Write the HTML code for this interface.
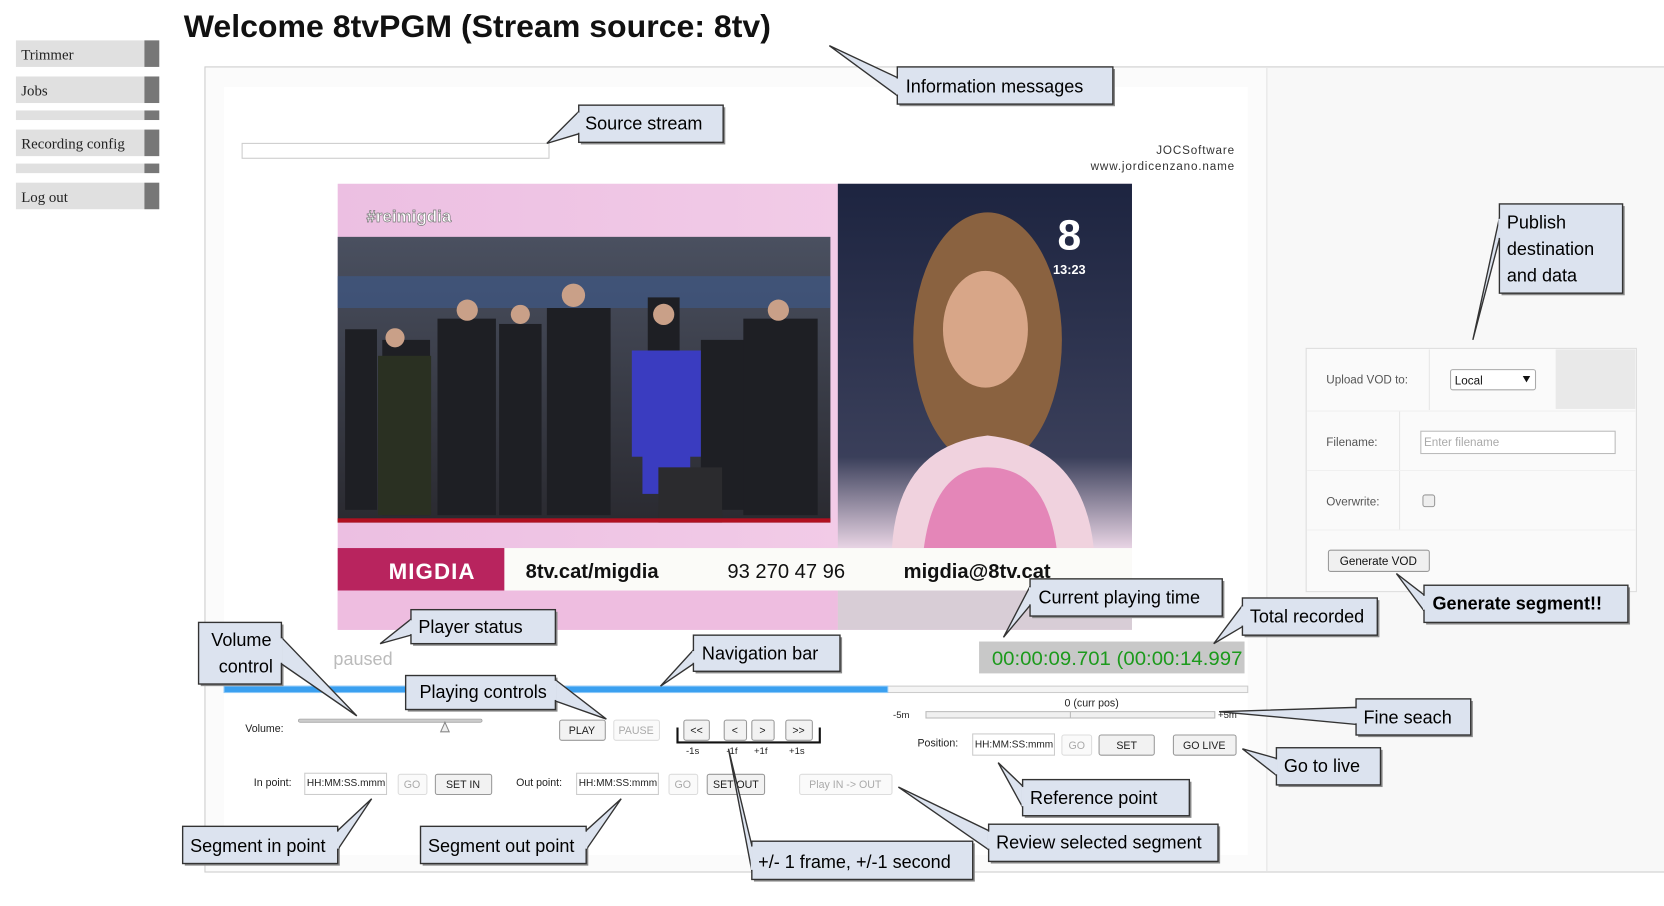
<!DOCTYPE html>
<html><head><meta charset="utf-8"><style>
html,body{margin:0;padding:0;background:#fff;width:1664px;height:906px;overflow:hidden}
svg{display:block}
text{font-family:"Liberation Sans",Arial,sans-serif}
.c{fill:#dce3ef;stroke:#333;stroke-width:1.3}
.sh{fill:#8a8a8a}
.ct{font-size:17px;fill:#000}
.sm{font-size:10px;fill:#222}
.btn{fill:#f2f2f2;stroke:#999;stroke-width:1}
.bt{font-size:10px;fill:#222;text-anchor:middle}
.gbt{font-size:10px;fill:#aaa;text-anchor:middle}
</style></head><body>
<svg width="1664" height="906" viewBox="0 0 1567 853" preserveAspectRatio="none" xmlns="http://www.w3.org/2000/svg">
<rect width="1567" height="853" fill="#fff"/>
<g>
<rect x="15" y="38" width="121" height="25" fill="#e0e0e0"/><rect x="136" y="38" width="14" height="25" fill="#777"/>
<rect x="15" y="72" width="121" height="25" fill="#e0e0e0"/><rect x="136" y="72" width="14" height="25" fill="#777"/>
<rect x="15" y="104" width="121" height="9" fill="#e0e0e0"/><rect x="136" y="104" width="14" height="9" fill="#777"/>
<rect x="15" y="122" width="121" height="25" fill="#e0e0e0"/><rect x="136" y="122" width="14" height="25" fill="#777"/>
<rect x="15" y="154" width="121" height="9" fill="#e0e0e0"/><rect x="136" y="154" width="14" height="9" fill="#777"/>
<rect x="15" y="172" width="121" height="25" fill="#e0e0e0"/><rect x="136" y="172" width="14" height="25" fill="#777"/>
<g font-size="14" fill="#222">
<text x="20" y="56" style="font-family:'Liberation Serif',serif">Trimmer</text>
<text x="20" y="90" style="font-family:'Liberation Serif',serif">Jobs</text>
<text x="20" y="140" style="font-family:'Liberation Serif',serif">Recording config</text>
<text x="20" y="190" style="font-family:'Liberation Serif',serif">Log out</text>
</g>
</g>
<text x="173" y="35" font-size="30" font-weight="bold" fill="#111" textLength="553" lengthAdjust="spacingAndGlyphs">Welcome 8tvPGM (Stream source: 8tv)</text>
<rect x="193" y="63" width="1380" height="758" fill="#fbfbfb" stroke="#ccc"/>
<rect x="1193" y="64" width="374" height="756" fill="#f8f8f8"/>
<line x1="1193" y1="64" x2="1193" y2="820" stroke="#e4e4e4"/>
<rect x="211" y="82" width="964" height="723" fill="#fff"/>
<rect x="228" y="135" width="289" height="14" fill="#fff" stroke="#ccc"/>
<text x="1163" y="145" font-size="11" fill="#333" text-anchor="end" letter-spacing="0.8">JOCSoftware</text>
<text x="1163" y="160" font-size="11" fill="#333" text-anchor="end" letter-spacing="0.8">www.jordicenzano.name</text>
<defs>
<linearGradient id="pk" x1="0" x2="1"><stop offset="0" stop-color="#ecbfe2"/><stop offset="1" stop-color="#f5d2ea"/></linearGradient>
<linearGradient id="bg2" x1="0" y1="0" x2="0" y2="1"><stop offset="0" stop-color="#4a5060"/><stop offset="1" stop-color="#2a2a30"/></linearGradient>
<linearGradient id="rt" x1="0" y1="0" x2="0" y2="1"><stop offset="0" stop-color="#1d2440"/><stop offset="0.75" stop-color="#3a3f5a"/><stop offset="1" stop-color="#e8d4e4"/></linearGradient>
</defs>
<rect x="318" y="173" width="748" height="420" fill="url(#pk)"/>
<text x="345" y="209" font-size="16" font-weight="bold" fill="#fff" stroke="#777" stroke-width="0.6">#reimigdia</text>
<rect x="318" y="223" width="464" height="269" fill="url(#bg2)"/>
<rect x="318" y="260" width="464" height="30" fill="#3d5a8c" opacity="0.6"/>
<g fill="#1e1f24">
<rect x="325" y="310" width="30" height="170"/><rect x="360" y="320" width="45" height="165"/><rect x="412" y="300" width="55" height="185"/>
<rect x="470" y="305" width="40" height="180"/><rect x="515" y="290" width="60" height="195"/><rect x="610" y="280" width="30" height="120"/>
<rect x="660" y="320" width="50" height="160"/><rect x="700" y="300" width="70" height="185"/>
</g>
<rect x="356" y="335" width="50" height="150" fill="#2a3022"/>
<rect x="595" y="330" width="65" height="100" fill="#3a3cc0"/><rect x="605" y="425" width="45" height="40" fill="#3a3cc0"/>
<g fill="#c9a088"><circle cx="372" cy="318" r="9"/><circle cx="440" cy="292" r="10"/><circle cx="490" cy="296" r="9"/><circle cx="540" cy="278" r="11"/><circle cx="625" cy="296" r="10"/><circle cx="733" cy="292" r="10"/></g>
<rect x="620" y="440" width="60" height="52" fill="#2b2b2e"/>
<rect x="318" y="488" width="464" height="4" fill="#b01020"/>
<rect x="789" y="173" width="277" height="343" fill="url(#rt)"/>
<ellipse cx="930" cy="320" rx="70" ry="120" fill="#8a6240"/>
<ellipse cx="928" cy="310" rx="40" ry="55" fill="#d8a688"/>
<path d="M840 516 Q845 420 930 410 Q1020 420 1030 516 Z" fill="#f0d2de"/>
<path d="M870 516 Q880 440 930 440 Q985 440 995 516 Z" fill="#e486b8"/>
<text x="1007" y="235" font-size="40" font-weight="bold" fill="#fff" text-anchor="middle">8</text>
<text x="1007" y="258" font-size="12" font-weight="bold" fill="#fff" text-anchor="middle">13:23</text>
<rect x="318" y="516" width="157" height="40" fill="#b8245e"/>
<rect x="475" y="516" width="591" height="40" fill="#fbfbf8"/>
<text x="366" y="545" font-size="21" font-weight="bold" fill="#fff" letter-spacing="1">MIGDIA</text>
<text x="495" y="544" font-size="19" font-weight="bold" fill="#111">8tv.cat/migdia</text>
<text x="685" y="544" font-size="19" fill="#111">93 270 47 96</text>
<text x="851" y="544" font-size="19" font-weight="bold" fill="#111">migdia@8tv.cat</text>
<rect x="318" y="556" width="471" height="37" fill="#eebde0"/>
<rect x="789" y="556" width="277" height="37" fill="#d8cdd6"/>
<text x="314" y="626" font-size="17" fill="#bbb">paused</text>
<rect x="922" y="604" width="250" height="30" fill="#c8c8c8"/>
<text x="934" y="626" font-size="18" fill="#1c9a1c" textLength="236" lengthAdjust="spacingAndGlyphs">00:00:09.701  (00:00:14.997</text>
<rect x="211" y="646" width="964" height="6" fill="#f4f4f4" stroke="#ccc" stroke-width="1"/>
<rect x="211" y="646" width="625" height="6" fill="#3aa0f0" stroke="#8cc8f8" stroke-width="1"/>
<text x="231" y="689" class="sm">Volume:</text>
<rect x="281" y="677" width="173" height="3" rx="1.5" fill="#ccc" stroke="#999" stroke-width="0.6"/>
<path d="M415 689 L419 680 L423 689 Z" fill="#eee" stroke="#888"/>
<rect x="527" y="678" width="43" height="19" class="btn" rx="2"/><text x="548" y="691" class="bt">PLAY</text>
<rect x="578" y="678" width="43" height="19" fill="#fafafa" stroke="#ddd" rx="2"/><text x="599" y="691" class="gbt">PAUSE</text>
<rect x="644" y="678" width="24" height="19" class="btn" rx="2"/><text x="656" y="691" class="bt">&lt;&lt;</text>
<rect x="682" y="678" width="21" height="19" class="btn" rx="2"/><text x="692" y="691" class="bt">&lt;</text>
<rect x="708" y="678" width="21" height="19" class="btn" rx="2"/><text x="718" y="691" class="bt">&gt;</text>
<rect x="740" y="678" width="25" height="19" class="btn" rx="2"/><text x="752" y="691" class="bt">&gt;&gt;</text>
<path d="M638 685 L638 699 L772 699 L772 685" fill="none" stroke="#111" stroke-width="2"/>
<g class="sm"><text x="646" y="710" font-size="9">-1s</text><text x="684" y="710" font-size="9">-1f</text><text x="710" y="710" font-size="9">+1f</text><text x="743" y="710" font-size="9">+1s</text></g>
<text x="1028" y="665" font-size="10" fill="#222" text-anchor="middle">0 (curr pos)</text>
<text x="841" y="676" font-size="9" fill="#222">-5m</text>
<rect x="872" y="670" width="272" height="6" fill="#f0f0f0" stroke="#bbb"/>
<line x1="1008" y1="670" x2="1008" y2="676" stroke="#bbb"/>
<text x="1147" y="676" font-size="9" fill="#222">+5m</text>
<text x="864" y="703" class="sm">Position:</text>
<rect x="916" y="691" width="77" height="20" fill="#fff" stroke="#ccc"/><text x="918" y="704" font-size="9.5" fill="#222">HH:MM:SS:mmm</text>
<rect x="1000" y="692" width="28" height="19" fill="#fafafa" stroke="#ddd" rx="2"/><text x="1014" y="705" class="gbt">GO</text>
<rect x="1035" y="692" width="52" height="19" class="btn" rx="2"/><text x="1061" y="705" class="bt">SET</text>
<rect x="1105" y="692" width="59" height="19" class="btn" rx="2"/><text x="1134" y="705" class="bt">GO LIVE</text>
<text x="239" y="740" class="sm">In point:</text>
<rect x="287" y="728" width="77" height="20" fill="#fff" stroke="#ccc"/><text x="289" y="740" font-size="9.5" fill="#222">HH:MM:SS.mmm</text>
<rect x="375" y="729" width="27" height="19" fill="#fafafa" stroke="#ddd" rx="2"/><text x="388" y="742" class="gbt">GO</text>
<rect x="410" y="729" width="53" height="19" class="btn" rx="2"/><text x="436" y="742" class="bt">SET IN</text>
<text x="486" y="740" class="sm">Out point:</text>
<rect x="543" y="728" width="77" height="20" fill="#fff" stroke="#ccc"/><text x="545" y="740" font-size="9.5" fill="#222">HH:MM:SS:mmm</text>
<rect x="630" y="729" width="27" height="19" fill="#fafafa" stroke="#ddd" rx="2"/><text x="643" y="742" class="gbt">GO</text>
<rect x="666" y="729" width="54" height="19" class="btn" rx="2"/><text x="693" y="742" class="bt">SET OUT</text>
<rect x="753" y="729" width="87" height="19" fill="#fafafa" stroke="#ddd" rx="2"/><text x="796" y="742" class="gbt">Play IN -&gt; OUT</text>
<rect x="1230" y="328" width="311" height="229" fill="#fafafa" stroke="#ddd"/>
<rect x="1465" y="329" width="75" height="56" fill="#e9e9e9"/>
<line x1="1346" y1="329" x2="1346" y2="386" stroke="#e6e6e6"/>
<line x1="1318" y1="387" x2="1318" y2="499" stroke="#e6e6e6"/>
<line x1="1231" y1="387" x2="1540" y2="387" stroke="#f0f0f0"/><line x1="1231" y1="443" x2="1540" y2="443" stroke="#f0f0f0"/><line x1="1231" y1="499" x2="1540" y2="499" stroke="#f0f0f0"/>
<text x="1249" y="361" font-size="11" fill="#555">Upload VOD to:</text>
<rect x="1366" y="348" width="80" height="19" fill="#fff" stroke="#aaa" rx="2"/><text x="1370" y="362" font-size="11" fill="#111">Local</text><path d="M1434 354 L1441 354 L1437.5 360 Z" fill="#111"/>
<text x="1249" y="420" font-size="11" fill="#555">Filename:</text>
<rect x="1338" y="406" width="183" height="21" fill="#fff" stroke="#bbb"/><text x="1341" y="420" font-size="11" fill="#aaa">Enter filename</text>
<text x="1249" y="476" font-size="11" fill="#555">Overwrite:</text>
<rect x="1340" y="466" width="11" height="11" rx="2" fill="#eee" stroke="#999"/>
<rect x="1251" y="518" width="95" height="20" fill="#f0f0f0" stroke="#999" rx="2"/><text x="1298" y="532" font-size="11" fill="#111" text-anchor="middle">Generate VOD</text>
<g>
<rect x="847" y="65" width="203" height="35" class="sh"/><polygon points="781,43 845,73 845,90" class="c"/><rect x="845" y="63" width="203" height="35" class="c"/><line x1="845" y1="74" x2="845" y2="89" stroke="#dce3ef" stroke-width="2"/>
<text x="853" y="87" class="ct">Information messages</text>
<rect x="547" y="101" width="136" height="35" class="sh"/><polygon points="515,135 545,105 545,126" class="c"/><rect x="545" y="99" width="136" height="35" class="c"/><line x1="545" y1="106" x2="545" y2="125" stroke="#dce3ef" stroke-width="2"/>
<text x="551" y="122" class="ct">Source stream</text>
<rect x="1414" y="194" width="116" height="84" class="sh"/><polygon points="1387,320 1412,205 1412,225" class="c"/><rect x="1412" y="192" width="116" height="84" class="c"/><line x1="1412" y1="206" x2="1412" y2="224" stroke="#dce3ef" stroke-width="2"/>
<text x="1419" y="215" class="ct">Publish</text><text x="1419" y="240" class="ct">destination</text><text x="1419" y="265" class="ct">and data</text>
<rect x="972" y="547" width="181" height="35" class="sh"/><polygon points="945,600 970,552 970,570" class="c"/><rect x="970" y="545" width="181" height="35" class="c"/><line x1="970" y1="553" x2="970" y2="569" stroke="#dce3ef" stroke-width="2"/>
<text x="978" y="568" class="ct">Current playing time</text>
<rect x="1172" y="565" width="127" height="35" class="sh"/><polygon points="1143,606 1170,570 1170,590" class="c"/><rect x="1170" y="563" width="127" height="35" class="c"/><line x1="1170" y1="571" x2="1170" y2="589" stroke="#dce3ef" stroke-width="2"/>
<text x="1177" y="586" class="ct">Total recorded</text>
<rect x="1343" y="553" width="192" height="35" class="sh"/><polygon points="1315,540 1341,560 1341,575" class="c"/><rect x="1341" y="551" width="192" height="35" class="c"/><line x1="1341" y1="561" x2="1341" y2="574" stroke="#dce3ef" stroke-width="2"/>
<text x="1349" y="574" class="ct" font-weight="bold">Generate segment!!</text>
<rect x="389" y="576" width="136" height="32" class="sh"/><polygon points="358,606 387,583 387,598" class="c"/><rect x="387" y="574" width="136" height="32" class="c"/><line x1="387" y1="584" x2="387" y2="597" stroke="#dce3ef" stroke-width="2"/>
<text x="394" y="596" class="ct">Player status</text>
<rect x="189" y="588" width="78" height="58" class="sh"/><polygon points="336,674 265,600 265,625" class="c"/><rect x="187" y="586" width="78" height="58" class="c"/><line x1="265" y1="601" x2="265" y2="624" stroke="#dce3ef" stroke-width="2"/>
<text x="199" y="608" class="ct">Volume</text><text x="206" y="633" class="ct">control</text>
<rect x="655" y="600" width="138" height="34" class="sh"/><polygon points="622,646 653,612 653,625" class="c"/><rect x="653" y="598" width="138" height="34" class="c"/><line x1="653" y1="613" x2="653" y2="624" stroke="#dce3ef" stroke-width="2"/>
<text x="661" y="621" class="ct">Navigation bar</text>
<rect x="384" y="638" width="141" height="32" class="sh"/><polygon points="571,677 523,640 523,660" class="c"/><rect x="382" y="636" width="141" height="32" class="c"/><line x1="523" y1="641" x2="523" y2="659" stroke="#dce3ef" stroke-width="2"/>
<text x="395" y="657" class="ct">Playing controls</text>
<rect x="1279" y="660" width="108" height="34" class="sh"/><polygon points="1148,670 1277,666 1277,682" class="c"/><rect x="1277" y="658" width="108" height="34" class="c"/><line x1="1277" y1="667" x2="1277" y2="681" stroke="#dce3ef" stroke-width="2"/>
<text x="1284" y="681" class="ct">Fine seach</text>
<rect x="1204" y="706" width="98" height="35" class="sh"/><polygon points="1170,705 1202,714 1202,730" class="c"/><rect x="1202" y="704" width="98" height="35" class="c"/><line x1="1202" y1="715" x2="1202" y2="729" stroke="#dce3ef" stroke-width="2"/>
<text x="1209" y="727" class="ct">Go to live</text>
<rect x="965" y="736" width="157" height="34" class="sh"/><polygon points="940,718 963,740 963,760" class="c"/><rect x="963" y="734" width="157" height="34" class="c"/><line x1="963" y1="741" x2="963" y2="759" stroke="#dce3ef" stroke-width="2"/>
<text x="970" y="757" class="ct">Reference point</text>
<rect x="933" y="778" width="216" height="35" class="sh"/><polygon points="846,741 931,782 931,800" class="c"/><rect x="931" y="776" width="216" height="35" class="c"/><line x1="931" y1="783" x2="931" y2="799" stroke="#dce3ef" stroke-width="2"/>
<text x="938" y="799" class="ct">Review selected segment</text>
<rect x="174" y="780" width="146" height="35" class="sh"/><polygon points="350,752 318,782 318,800" class="c"/><rect x="172" y="778" width="146" height="35" class="c"/><line x1="318" y1="783" x2="318" y2="799" stroke="#dce3ef" stroke-width="2"/>
<text x="179" y="802" class="ct">Segment in point</text>
<rect x="398" y="780" width="156" height="35" class="sh"/><polygon points="585,752 552,782 552,800" class="c"/><rect x="396" y="778" width="156" height="35" class="c"/><line x1="552" y1="783" x2="552" y2="799" stroke="#dce3ef" stroke-width="2"/>
<text x="403" y="802" class="ct">Segment out point</text>
<rect x="710" y="794" width="208" height="36" class="sh"/><polygon points="686,705 708,796 708,820" class="c"/><rect x="708" y="792" width="208" height="36" class="c"/><line x1="708" y1="797" x2="708" y2="819" stroke="#dce3ef" stroke-width="2"/>
<text x="714" y="817" class="ct">+/- 1 frame, +/-1 second</text>
</g>
</svg>
</body></html>
